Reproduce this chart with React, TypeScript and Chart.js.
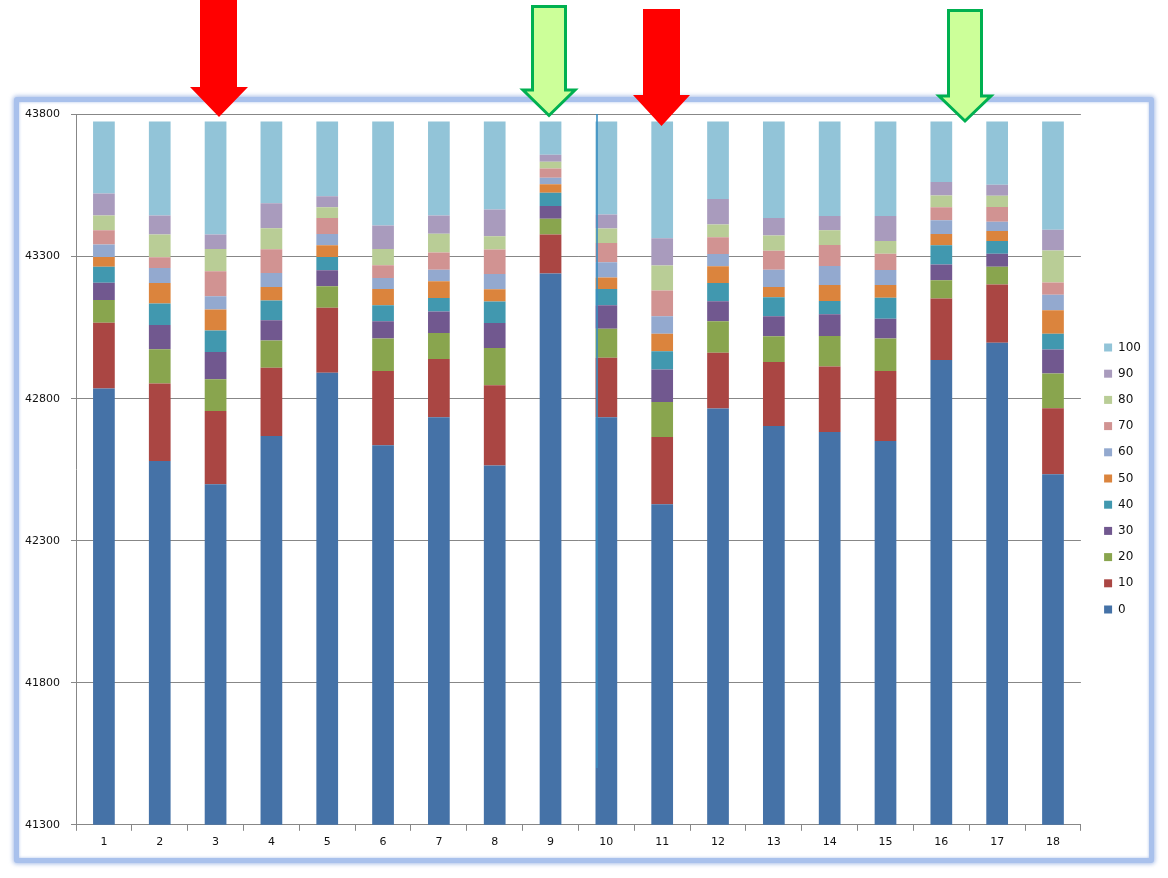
import React, { useEffect, useRef } from 'react';
import { Chart, registerables } from 'chart.js';

Chart.register(...registerables);

const categories = ['1', '2', '3', '4', '5', '6', '7', '8', '9', '10', '11', '12', '13', '14', '15', '16', '17', '18'];

const s0 = [42836, 42581, 42499, 42669, 42891, 42636, 42735, 42565, 43241, 42735, 42428, 42765, 42704, 42683, 42651, 42936, 42997, 42534];
const s10 = [231, 272, 258, 240, 229, 261, 205, 282, 137, 209, 237, 197, 225, 230, 246, 217, 205, 232];
const s20 = [80, 121, 111, 96, 76, 115, 91, 131, 55, 102, 123, 111, 91, 108, 115, 64, 62, 123];
const s30 = [61, 85, 96, 71, 56, 61, 76, 88, 45, 83, 115, 70, 70, 76, 69, 55, 46, 84];
const s40 = [56, 76, 76, 70, 47, 56, 47, 76, 47, 57, 64, 64, 67, 47, 74, 68, 45, 56];
const s50 = [35, 72, 74, 47, 41, 57, 59, 43, 30, 41, 62, 59, 36, 56, 45, 40, 35, 82];
const s60 = [44, 53, 47, 49, 40, 39, 41, 54, 23, 53, 61, 43, 61, 67, 53, 48, 33, 55];
const s70 = [50, 38, 88, 84, 56, 45, 61, 86, 32, 68, 91, 59, 67, 74, 57, 46, 52, 43];
const s80 = [52, 80, 78, 74, 38, 57, 66, 47, 24, 51, 88, 45, 53, 52, 45, 41, 39, 113];
const s90 = [77, 67, 51, 88, 39, 83, 64, 94, 25, 49, 96, 90, 62, 50, 88, 48, 39, 73];
const s100 = [254, 331, 398, 288, 263, 366, 331, 310, 117, 328, 411, 273, 340, 333, 333, 213, 223, 381];

const seriesNames = ['0', '10', '20', '30', '40', '50', '60', '70', '80', '90', '100'];
const seriesValues = [s0, s10, s20, s30, s40, s50, s60, s70, s80, s90, s100];
const seriesColors = ['#4572A7', '#AA4643', '#89A54E', '#71588F', '#4198AF', '#DB843D', '#93A9CF', '#D19392', '#B9CD96', '#A99BBD', '#92C4D8'];

const yMin = 41300;
const yMax = 43800;
const yStep = 500;

const FONT = 'DejaVu Sans';
const GRID = '#878787';

export default function App() {
  const ref = useRef<HTMLCanvasElement>(null);

  useEffect(() => {
    if (!ref.current) return;
    const chart = new Chart(ref.current, {
      type: 'bar',
      data: {
        labels: categories,
        datasets: seriesValues.map((d, i) => ({
          label: seriesNames[i],
          data: d,
          backgroundColor: seriesColors[i],
          borderWidth: 0,
          barPercentage: 0.389,
          categoryPercentage: 1,
        })),
      },
      options: {
        responsive: false,
        animation: false,
        devicePixelRatio: 1,
        layout: { padding: { top: 6, bottom: 2, left: 0, right: 0 } },
        plugins: {
          legend: {
            position: 'right',
            reverse: true,
            labels: {
              boxWidth: 8,
              boxHeight: 8,
              padding: 14.2,
              color: '#111',
              font: { family: FONT, size: 12 },
            },
          },
          tooltip: { enabled: false },
        },
        scales: {
          x: {
            stacked: true,
            grid: { offset: true, drawOnChartArea: false, drawTicks: true, tickLength: 6, color: GRID },
            border: { color: GRID },
            ticks: { padding: 5, color: '#111', font: { family: FONT, size: 11 }, maxRotation: 0, autoSkip: false },
          },
          y: {
            stacked: true,
            min: yMin,
            max: yMax,
            ticks: {
              stepSize: yStep,
              padding: 11,
              color: '#111',
              font: { family: FONT, size: 11 },
              callback: (v: any) => String(v),
            },
            grid: { color: GRID, tickLength: 5 },
            border: { color: GRID },
            afterFit: (s: any) => { s.width = 57; },
          },
          yR: {
            type: 'linear',
            position: 'right',
            display: true,
            grid: { display: false },
            border: { display: false },
            ticks: { display: false },
            afterFit: (s: any) => { s.width = 9; },
          },
        },
      } as any,
    });
    return () => chart.destroy();
  }, []);

  return (
    <div style={{ position: 'absolute', left: 0, top: 0, width: 1168, height: 878, background: '#fff', overflow: 'hidden' }}>
      <div
        style={{
          position: 'absolute',
          left: 14,
          top: 97,
          width: 1140,
          height: 766,
          boxSizing: 'border-box',
          border: '5px solid #a9c1ec',
          borderRadius: 3,
          boxShadow: '0 0 4px 1px rgba(110,145,215,0.6), inset 0 0 3px rgba(140,170,225,0.7)',
          background: '#fff',
        }}
      />
      <canvas ref={ref} width={1132} height={759} style={{ position: 'absolute', left: 19, top: 97 }} />
      <svg width={1168} height={878} style={{ position: 'absolute', left: 0, top: 0, pointerEvents: 'none' }}>
        <line x1={597} y1={114} x2={597} y2={768} stroke="#3a8fc2" strokeWidth={1.6} />
        <polygon points="200,0 237,0 237,87 248,87 219,117 190,87 200,87" fill="#ff0000" />
        <polygon points="643,9 680,9 680,95 690,95 661.5,126 633,95 643,95" fill="#ff0000" />
        <polygon points="532.5,6.5 565.5,6.5 565.5,90 575,90 549,115.5 523,90 532.5,90" fill="#ccff99" stroke="#00b050" strokeWidth={3} strokeLinejoin="miter" />
        <polygon points="948.5,10.5 981.5,10.5 981.5,96 991,96 965,121 939,96 948.5,96" fill="#ccff99" stroke="#00b050" strokeWidth={3} strokeLinejoin="miter" />
      </svg>
    </div>
  );
}
